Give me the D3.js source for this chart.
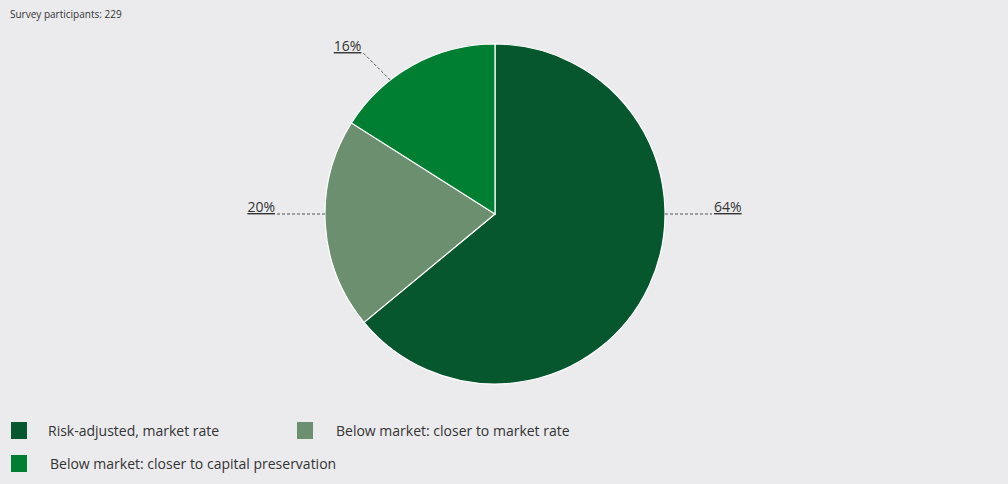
<!DOCTYPE html>
<html><head><meta charset="utf-8">
<script src="https://cdn.jsdelivr.net/npm/d3@7"></script>
<style>
html,body{margin:0;padding:0;background:#ebebed;}
svg{display:block;font-family:"Open Sans","Lato",sans-serif;}
</style></head>
<body>
<svg id="c" width="1008" height="484"></svg>
<script>
const categories = ["Risk-adjusted, market rate", "Below market: closer to market rate", "Below market: closer to capital preservation"];
const values = [64, 20, 16];
const valueLabels = ["64%", "20%", "16%"];
const colors = ["#06562e", "#6b8f6f", "#007f33"];
const title = "Survey participants: 229";

const W = 1008, H = 484;
const cx = 495, cy = 214, R = 170;
// layout for the label leaders: angle on the rim (deg, clockwise from top), end point offset
const leader = [
  {ang: 90, dx: 47, dy: 0, anchor: "start"},
  {ang: 270, dx: -48, dy: 0, anchor: "end"},
  {ang: 322, dx: -27, dy: -27, anchor: "end"}
];

const svg = d3.select("#c");
svg.append("rect").attr("width", W).attr("height", H).attr("fill", "#ebebed");
svg.append("text").attr("x", 10).attr("y", 18).attr("font-size", 10).attr("fill", "#333").text(title);

const pie = d3.pie().sort(null).value(d => d);
const arc = d3.arc().innerRadius(0).outerRadius(R);
const g = svg.append("g").attr("transform", `translate(${cx},${cy})`);
const arcs = pie(values);
g.selectAll("path").data(arcs).join("path")
  .attr("d", arc).attr("fill", (d, i) => colors[i])
  .attr("stroke", "#ffffff").attr("stroke-width", 1.2);

arcs.forEach((d, i) => {
  const L = leader[i];
  const a = L.ang * Math.PI / 180;
  const x0 = R * Math.sin(a), y0 = -R * Math.cos(a);
  const x1 = x0 + L.dx, y1 = y0 + L.dy;
  g.append("line").attr("x1", x0).attr("y1", y0).attr("x2", x1).attr("y2", y1)
    .attr("stroke", "#555").attr("stroke-width", 1).attr("stroke-dasharray", "3,2");
  g.append("text").attr("x", x1 + (L.anchor === "start" ? 2 : -2)).attr("y", y1 - 2)
    .attr("text-anchor", L.anchor).attr("font-size", 14).attr("fill", "#333")
    .attr("text-decoration", "underline").text(valueLabels[i]);
});

const legendPos = [{x: 11, y: 422, tx: 48}, {x: 297, y: 422, tx: 336}, {x: 11, y: 455, tx: 50}];
const lg = svg.append("g");
categories.forEach((c, i) => {
  const p = legendPos[i];
  lg.append("rect").attr("x", p.x).attr("y", p.y).attr("width", 16).attr("height", 17).attr("fill", colors[i]);
  lg.append("text").attr("x", p.tx).attr("y", p.y + 14).attr("font-size", 14).attr("fill", "#333").text(c);
});
</script>
</body></html>
